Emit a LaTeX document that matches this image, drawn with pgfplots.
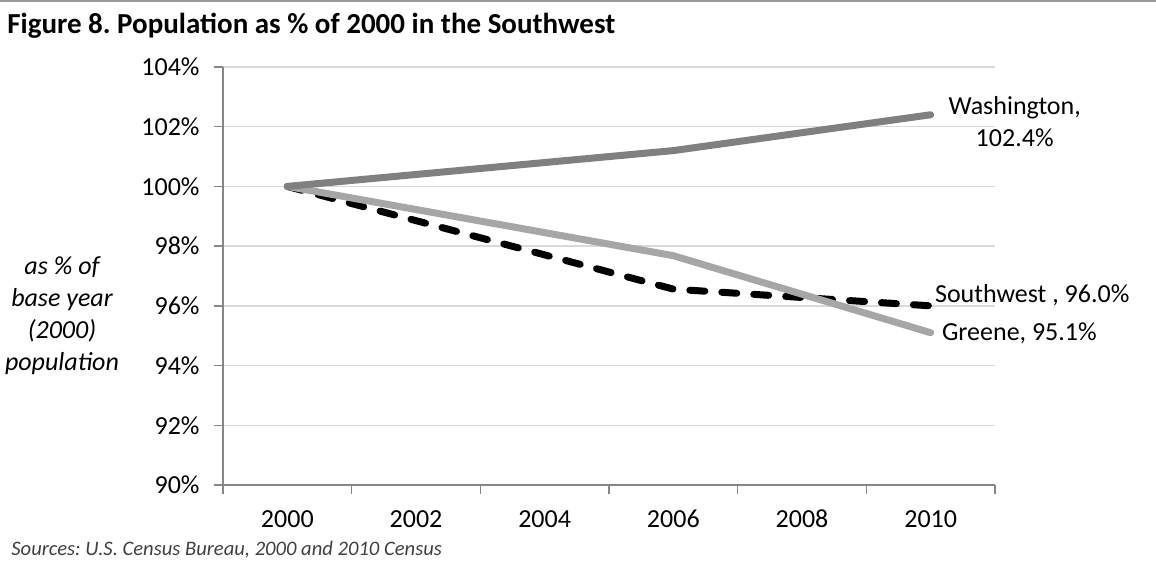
\documentclass[border=0pt]{standalone}
\usepackage{fontspec}
\setmainfont{Carlito}
\usepackage{pgfplots}
\pgfplotsset{compat=1.18}

\definecolor{washcol}{HTML}{808080}
\definecolor{greenecol}{HTML}{A6A6A6}
\definecolor{gridcol}{HTML}{D9D9D9}
\definecolor{axiscol}{HTML}{868686}
\definecolor{sourcecol}{HTML}{404040}
\definecolor{topline}{HTML}{9A9A9A}

\frenchspacing
\begin{document}
\begin{tikzpicture}
\useasboundingbox (-111.5pt,-45.5pt) rectangle (466.5pt,242.5pt);
% rule across the top of the figure
\draw[topline, line width=1.3pt] (-111.5pt,241.9pt) -- (466.5pt,241.9pt);
\node[anchor=base west, font=\bfseries\fontsize{14.5}{17}\selectfont, inner sep=0pt]
  at (-108pt,225.5pt) {Figure 8. Population as \% of 2000 in the Southwest};

\begin{axis}[
  at={(0,0)}, anchor=south west,
  scale only axis, width=386pt, height=209pt,
  xmin=1999, xmax=2011, ymin=90, ymax=104,
  axis lines*=left,
  axis line style={draw=axiscol, line width=0.75pt, -},
  xtick={2000,2002,...,2010},
  minor xtick={1999,2001,...,2011},
  ytick={90,92,...,104},
  tick align=outside,
  major tick length=4.5pt, minor tick length=4.5pt,
  tick style={draw=axiscol, line width=0.75pt},
  major x tick style={draw=none},
  ymajorgrids,
  grid style={draw=gridcol, line width=0.75pt},
  /pgf/number format/assume math mode=true,
  tick label style={font=\fontsize{13}{15}\selectfont},
  x tick label style={/pgf/number format/1000 sep={}, yshift=-4.7pt,
    text height=8.6pt, text depth=0pt},
  y tick label style={xshift=-3.7pt},
  yticklabel={\pgfmathprintnumber[fixed,precision=0,assume math mode=true]{\tick}\%},
  clip=false,
]
% Southwest region (dashed)
\addplot[black, line width=3.5pt, line cap=round, dash pattern=on 7.5pt off 8.5pt]
  coordinates {(2000,100) (2006,96.56) (2010,96.0)};
% Greene County
\addplot[greenecol, line width=3.5pt, line cap=round]
  coordinates {(2000,100) (2006,97.68) (2010,95.1)};
% Washington County
\addplot[washcol, line width=3.5pt, line cap=round]
  coordinates {(2000,100) (2006,101.2) (2010,102.4)};

% end-of-line labels
\node[anchor=base, inner sep=0pt, xshift=42pt, font=\fontsize{13}{15}\selectfont]
  at (axis cs:2010,102.4) {Washington,};
\node[anchor=base, inner sep=0pt, xshift=42pt, yshift=-16pt, font=\fontsize{13}{15}\selectfont]
  at (axis cs:2010,102.4) {102.4\%};
\node[anchor=base west, inner sep=0pt, xshift=2pt, yshift=1.75pt, font=\fontsize{13}{15}\selectfont]
  at (axis cs:2010,96.0) {Southwest , 96.0\%};
\node[anchor=base west, inner sep=0pt, xshift=5.5pt, yshift=-4pt, font=\fontsize{13}{15}\selectfont]
  at (axis cs:2010,95.1) {Greene, 95.1\%};
\end{axis}

% y-axis caption
\node[align=center, font=\itshape\fontsize{13}{16}\selectfont, inner sep=0pt]
  at (-80.5pt,84.5pt) {as \% of\\base year\\(2000)\\population};
% source line
\node[anchor=base west, inner sep=0pt, text=sourcecol, font=\itshape\fontsize{10.3}{12}\selectfont]
  at (-106pt,-35.25pt) {Sources: U.S. Census Bureau, 2000 and 2010 Census};
\end{tikzpicture}
\end{document}
